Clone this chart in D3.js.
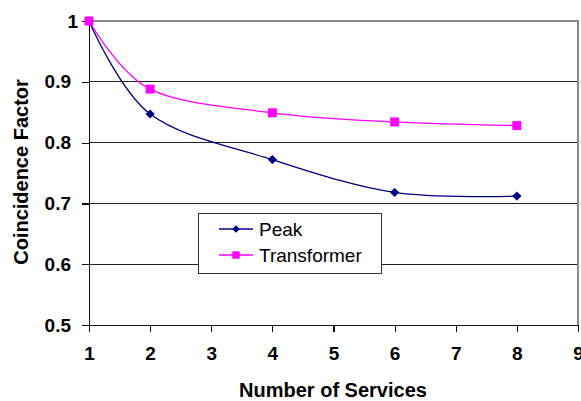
<!DOCTYPE html>
<html><head><meta charset="utf-8">
<script src="https://cdn.jsdelivr.net/npm/d3@7"></script>
<style>body{margin:0;background:#fff}svg{display:block}</style>
</head><body>
<svg id="c" width="581" height="401"></svg>
<script>
const services = [1, 2, 4, 6, 8];
const peak = [1.0, 0.847, 0.772, 0.718, 0.712];
const transformer = [1.0, 0.888, 0.849, 0.834, 0.828];
const xTicks = [1, 2, 3, 4, 5, 6, 7, 8, 9];
const yTicks = [0.5, 0.6, 0.7, 0.8, 0.9, 1];
const seriesNames = ["Peak", "Transformer"];

const svg = d3.select("#c");
const x = d3.scaleLinear().domain([1, 9]).range([89, 578]);
const y = d3.scaleLinear().domain([0.5, 1]).range([325, 21]);
const font = "Arial, 'Liberation Sans', sans-serif";

// gridlines
svg.append("g").selectAll("line").data(yTicks.filter(d => d > 0.5 && d < 1)).join("line")
  .attr("x1", x(1)).attr("x2", x(9)).attr("y1", d => y(d)).attr("y2", d => y(d))
  .attr("stroke", "#222").attr("stroke-width", 1).attr("shape-rendering", "crispEdges");
// top/right border
svg.append("path").attr("d", `M${x(1)},${y(1)}H${x(9)}V${y(0.5)}`)
  .attr("fill", "none").attr("stroke", "#8c8c8c").attr("stroke-width", 1.3).attr("shape-rendering", "crispEdges");

// axes
const yAxis = d3.axisLeft(y).tickValues(yTicks).tickSize(7).tickPadding(11)
  .tickFormat(d => d === 1 ? "1" : d3.format(".1f")(d));
const gy = svg.append("g").attr("transform", `translate(${x(1)},0)`).call(yAxis);
const xAxis = d3.axisBottom(x).tickValues(xTicks).tickSize(7).tickPadding(15).tickFormat(d3.format("d"));
const gx = svg.append("g").attr("transform", `translate(0,${y(0.5)})`).call(xAxis);
[gx, gy].forEach(g => {
  g.select(".domain").attr("stroke", "#111").attr("stroke-width", 1.2);
  g.selectAll(".tick line").attr("stroke", "#111").attr("stroke-width", 1.2);
  g.selectAll("text").attr("font-family", font).attr("font-size", 19).attr("font-weight", "bold").attr("fill", "#000");
});
gy.selectAll(".tick text").filter(d => d === 1).attr("dx", 7);
gx.selectAll(".tick line").attr("y1", 0).attr("y2", 7);
svg.selectAll(".tick line").attr("shape-rendering", "crispEdges");
svg.selectAll(".domain").attr("shape-rendering", "crispEdges");

// axis titles
svg.append("text").attr("x", 333).attr("y", 397).attr("text-anchor", "middle")
  .attr("font-family", font).attr("font-size", 20).attr("font-weight", "bold").text("Number of Services");
svg.append("text").attr("transform", "translate(28,172) rotate(-90)").attr("text-anchor", "middle")
  .attr("font-family", font).attr("font-size", 20).attr("font-weight", "bold").text("Coincidence Factor");

const line = d3.line().x(d => x(d[0])).y(d => y(d[1])).curve(d3.curveCardinal.tension(0));
const sets = [
  {vals: peak, color: "#000080", size: 42, rot: 45, legSize: 30},
  {vals: transformer, color: "#ff00ff", size: 80, rot: 0, legSize: 55}
];
sets.slice().reverse().forEach(s => {
  const pts = services.map((v, i) => [v, s.vals[i]]);
  svg.append("path").datum(pts).attr("d", line).attr("fill", "none").attr("stroke", s.color).attr("stroke-width", 1.3);
});
sets.forEach(s => {
  const pts = services.map((v, i) => [v, s.vals[i]]);
  svg.append("g").selectAll("path").data(pts).join("path")
    .attr("transform", d => `translate(${x(d[0])},${y(d[1])}) rotate(${s.rot})`)
    .attr("d", d3.symbol(d3.symbolSquare, s.size)).attr("fill", s.color);
});

// legend
const lg = svg.append("g");
lg.append("rect").attr("x", 198.5).attr("y", 213.5).attr("width", 183).attr("height", 60)
  .attr("fill", "#fff").attr("stroke", "#333").attr("stroke-width", 1);
seriesNames.forEach((n, i) => {
  const yy = 229 + i * 26;
  lg.append("line").attr("x1", 219).attr("x2", 253).attr("y1", yy).attr("y2", yy).attr("stroke", sets[i].color).attr("stroke-width", 1.3);
  lg.append("path").attr("transform", `translate(236,${yy}) rotate(${sets[i].rot})`).attr("d", d3.symbol(d3.symbolSquare, sets[i].legSize)).attr("fill", sets[i].color);
  lg.append("text").attr("x", 259).attr("y", yy + 7).attr("font-family", font).attr("font-size", 19).attr("fill", "#000").text(n);
});
</script>
</body></html>
